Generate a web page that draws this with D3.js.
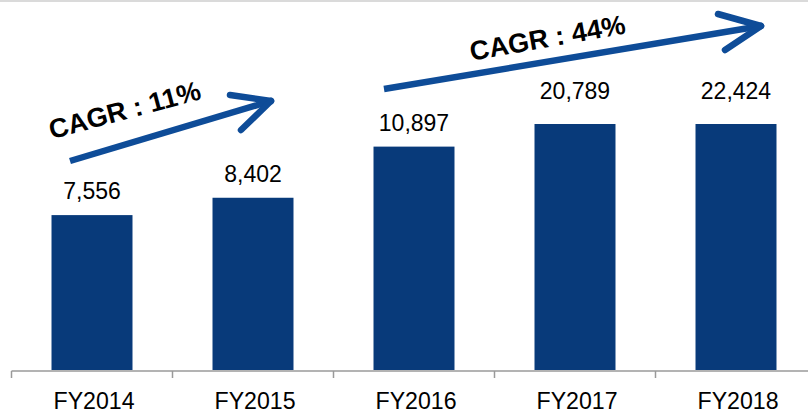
<!DOCTYPE html>
<html>
<head>
<meta charset="utf-8">
<script src="https://cdn.jsdelivr.net/npm/d3@7"></script>
<style>
  html, body { margin: 0; padding: 0; background: #fff; }
  svg { display: block; }
</style>
</head>
<body>
<svg id="chart" width="808" height="415"></svg>
<script>
// ---- data ----
const categories = ["FY2014", "FY2015", "FY2016", "FY2017", "FY2018"];
const values = [7556, 8402, 10897, 20789, 22424];
const cagrLabels = ["CAGR : 11%", "CAGR : 44%"];

// ---- layout ----
const W = 808, H = 415;
const svg = d3.select("#chart");
const barColor = "#083A7A";
const arrowColor = "#0E4C98";

// top border line
svg.append("rect").attr("x", 0).attr("y", 0).attr("width", W).attr("height", 2).attr("fill", "#dadada");

const x = d3.scaleBand().domain(categories).range([11.5, 816.5]).paddingInner(0.497).paddingOuter(0.2485);
// broken/capped value axis: larger values are clamped to the top of the plot
const y = d3.scaleLinear().domain([0, 12000]).range([370, 124]).clamp(true);

// bars
svg.selectAll("rect.bar").data(values).join("rect")
  .attr("class", "bar")
  .attr("x", (d, i) => x(categories[i]))
  .attr("width", x.bandwidth())
  .attr("y", d => y(d))
  .attr("height", d => y(0) - y(d))
  .attr("fill", barColor);

// value labels
const fmt = d3.format(",");
svg.selectAll("text.val").data(values).join("text")
  .attr("class", "val")
  .attr("x", (d, i) => x(categories[i]) + x.bandwidth() / 2)
  .attr("y", d => y(d) - (d > y.domain()[1] ? 25 : 16))
  .attr("text-anchor", "middle")
  .attr("font-family", "'Liberation Sans', Arial, sans-serif")
  .attr("font-size", 23)
  .attr("fill", "#000")
  .text(d => fmt(d));

// x axis
const axisG = svg.append("g").attr("transform", "translate(0,371)");
axisG.append("line").attr("x1", 11.5).attr("x2", W).attr("y1", 0).attr("y2", 0)
  .attr("stroke", "#9a9a9a").attr("stroke-width", 1.5);
const step = x.step();
const boundaries = d3.range(categories.length + 1).map(i => 11.5 + i * step);
axisG.selectAll("line.tick").data(boundaries).join("line")
  .attr("class", "tick")
  .attr("x1", d => d).attr("x2", d => d).attr("y1", 0).attr("y2", 7)
  .attr("stroke", "#9a9a9a").attr("stroke-width", 1.5);
axisG.selectAll("text.cat").data(categories).join("text")
  .attr("class", "cat")
  .attr("x", d => x(d) + x.bandwidth() / 2 + 2)
  .attr("y", 38)
  .attr("text-anchor", "middle")
  .attr("font-family", "'Liberation Sans', Arial, sans-serif")
  .attr("font-size", 24)
  .attr("textLength", 81)
  .attr("lengthAdjust", "spacingAndGlyphs")
  .attr("fill", "#000")
  .text(d => d);

// CAGR arrows (annotations)
function arrow(x1, y1, x2, y2, h1, h2) {
  const g = svg.append("g").attr("stroke", arrowColor).attr("stroke-width", 6.5)
    .attr("stroke-linecap", "round").attr("fill", "none");
  g.append("line").attr("x1", x1).attr("y1", y1).attr("x2", x2).attr("y2", y2).attr("stroke-linecap", "butt");
  g.append("line").attr("x1", x2).attr("y1", y2).attr("x2", h1[0]).attr("y2", h1[1]);
  g.append("line").attr("x1", x2).attr("y1", y2).attr("x2", h2[0]).attr("y2", h2[1]);
}
const c0 = x(categories[0]) + x.bandwidth() / 2;
const c1 = x(categories[1]) + x.bandwidth() / 2;
const c2 = x(categories[2]) + x.bandwidth() / 2;
const c4 = x(categories[4]) + x.bandwidth() / 2;

arrow(c0 - 22, 161, c1 + 18, 101, [c1 - 23, 95], [c1 - 12, 130]);
arrow(c2 - 30, 89, c4 + 25, 26, [c4 - 18, 14], [c4 - 11, 50]);

function cagrText(t, cx, cy, ang) {
  svg.append("text")
    .attr("transform", `translate(${cx},${cy}) rotate(${ang})`)
    .attr("text-anchor", "middle")
    .attr("font-family", "'Liberation Sans', Arial, sans-serif")
    .attr("font-weight", "bold")
    .attr("font-size", 27)
    .attr("fill", "#000")
    .text(t);
}
cagrText(cagrLabels[0], 127, 119, -15);
cagrText(cagrLabels[1], 549, 47, -10);
</script>
</body>
</html>
